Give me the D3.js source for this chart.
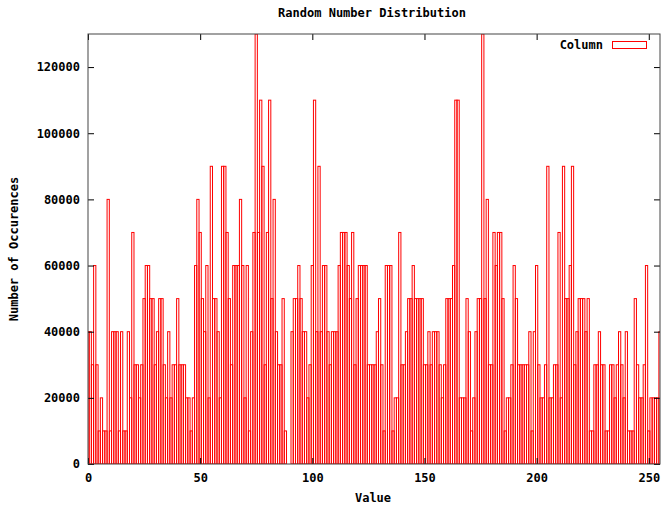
<!DOCTYPE html>
<html>
<head>
<meta charset="utf-8">
<script src="https://cdn.jsdelivr.net/npm/d3@7"></script>
<style>
  html, body { margin: 0; padding: 0; background: #ffffff; }
  svg text { font-family: "DejaVu Sans Mono", "Liberation Mono", monospace; font-weight: bold; font-size: 12px; fill: #000; }
</style>
</head>
<body>
<svg id="chart" width="662" height="508"></svg>
<script>
const chartTitle = "Random Number Distribution";
const xLabel = "Value";
const yLabel = "Number of Occurences";
const seriesName = "Column";

const counts = [
  40000,40000,30000,60000,30000,10000,20000,10000,10000,80000,10000,40000,40000,40000,10000,40000,
  10000,10000,40000,20000,70000,30000,30000,20000,30000,50000,60000,60000,50000,50000,30000,40000,
  50000,50000,30000,20000,40000,20000,30000,30000,50000,30000,30000,30000,20000,20000,10000,20000,
  60000,80000,70000,50000,40000,60000,20000,90000,50000,50000,40000,20000,90000,90000,70000,50000,
  30000,60000,60000,60000,80000,60000,20000,60000,10000,40000,70000,130000,70000,110000,90000,30000,
  70000,110000,50000,80000,40000,30000,30000,50000,10000,0,0,40000,50000,50000,60000,50000,
  40000,40000,20000,30000,60000,110000,40000,90000,40000,60000,60000,40000,30000,40000,40000,40000,
  60000,70000,70000,70000,60000,50000,70000,30000,50000,60000,60000,60000,60000,30000,30000,30000,
  30000,40000,50000,30000,10000,60000,60000,60000,10000,20000,20000,70000,30000,30000,40000,50000,
  50000,60000,50000,50000,50000,50000,30000,30000,40000,30000,40000,40000,40000,30000,20000,30000,
  50000,50000,50000,60000,110000,110000,20000,20000,20000,50000,40000,10000,20000,40000,50000,50000,
  130000,50000,80000,30000,30000,70000,60000,70000,70000,50000,10000,20000,20000,30000,60000,50000,
  30000,30000,30000,30000,30000,40000,10000,40000,60000,30000,20000,20000,30000,90000,20000,20000,
  30000,30000,70000,20000,90000,50000,50000,60000,90000,30000,40000,50000,50000,50000,40000,50000,
  10000,10000,30000,30000,40000,30000,30000,10000,10000,30000,30000,20000,30000,40000,30000,20000,
  40000,10000,10000,10000,50000,30000,20000,20000,30000,60000,10000,20000,20000,20000,20000,40000
];
const values = d3.range(counts.length); // bin index 0..255
const xTicks = [0, 50, 100, 150, 200, 250];
const yTicks = [0, 20000, 40000, 60000, 80000, 100000, 120000];
const xDomain = [0, 255];
const yDomain = [0, 130000];

const L = 88, R = 660, T = 34, B = 464;
const svg = d3.select("#chart");
const x = d3.scaleLinear().domain(xDomain).range([L, R]);
const y = d3.scaleLinear().domain(yDomain).range([B, T]);

svg.append("rect").attr("width", 662).attr("height", 508).attr("fill", "#fff");

svg.append("defs").append("clipPath").attr("id", "plotclip")
  .append("rect").attr("x", L).attr("y", T).attr("width", R - L).attr("height", B - T);

// boxes
svg.append("g").attr("clip-path", "url(#plotclip)")
  .selectAll("rect").data(values).join("rect")
  .attr("x", i => x(i - 0.5))
  .attr("width", i => x(i + 0.5) - x(i - 0.5))
  .attr("y", i => y(counts[i]))
  .attr("height", i => y(0) - y(counts[i]))
  .attr("fill", "none")
  .attr("stroke", "#ff0000")
  .attr("stroke-width", 1);

// axes with inward ticks
const axL = svg.append("g").attr("transform", `translate(${L},0)`)
  .call(d3.axisLeft(y).tickValues(yTicks).tickSizeInner(-6).tickSizeOuter(0).tickPadding(8).tickFormat(d3.format("d")));
const axR = svg.append("g").attr("transform", `translate(${R},0)`)
  .call(d3.axisRight(y).tickValues(yTicks).tickSizeInner(-6).tickSizeOuter(0).tickFormat(""));
const axB = svg.append("g").attr("transform", `translate(0,${B})`)
  .call(d3.axisBottom(x).tickValues(xTicks).tickSizeInner(-6).tickSizeOuter(0).tickPadding(9).tickFormat(d3.format("d")));
const axT = svg.append("g").attr("transform", `translate(0,${T})`)
  .call(d3.axisTop(x).tickValues(xTicks).tickSizeInner(-6).tickSizeOuter(0).tickFormat(""));
[axL, axR, axB, axT].forEach(g => {
  g.select(".domain").remove();
  g.selectAll(".tick line").attr("stroke", "#000");
  g.selectAll("text").attr("font-family", null).attr("font-size", null);
});

// border
svg.append("rect").attr("x", L).attr("y", T).attr("width", R - L).attr("height", B - T)
  .attr("fill", "none").attr("stroke", "#444").attr("stroke-width", 1);

// title & labels
svg.append("text").attr("x", 372).attr("y", 17).attr("text-anchor", "middle").text(chartTitle);
svg.append("text").attr("x", 373).attr("y", 502).attr("text-anchor", "middle").text(xLabel);
svg.append("text").attr("transform", "translate(18,249) rotate(-90)").attr("text-anchor", "middle").text(yLabel);

// legend
svg.append("text").attr("x", 603).attr("y", 49).attr("text-anchor", "end").text(seriesName);
svg.append("rect").attr("x", 612.5).attr("y", 41.5).attr("width", 34).attr("height", 7)
  .attr("fill", "none").attr("stroke", "#ff0000").attr("stroke-width", 1);
</script>
</body>
</html>
